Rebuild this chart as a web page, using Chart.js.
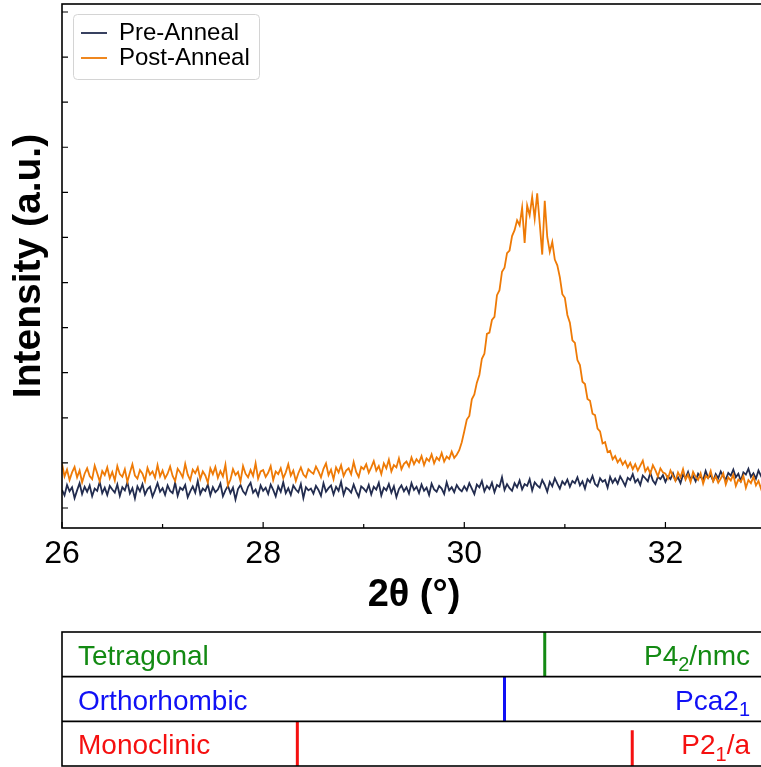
<!DOCTYPE html>
<html>
<head>
<meta charset="utf-8">
<script src="https://cdn.jsdelivr.net/npm/chart.js@4.4.0/dist/chart.umd.min.js"></script>
<style>
  html, body { margin: 0; padding: 0; background: #fff; overflow: hidden; width: 761px; height: 767px; }
  canvas { position: absolute; left: 0; }
  #main { top: 0; }
  #phase { top: 626px; }
</style>
</head>
<body>
<canvas id="main" width="770" height="618"></canvas>
<canvas id="phase" width="770" height="146"></canvas>
<script>
// scan grid (deg 2theta)
const thetaStart = 26.0;
const thetaStep = 0.025;

// intensities, 20 points per 0.5 deg
const preAnneal = [
  140, 128, 151, 137, 146, 122, 139, 155, 131, 147, 136, 150, 126, 143, 138, 158, 133, 145, 129, 149,
  141, 134, 152, 127, 146, 139, 157, 132, 144, 121, 148, 137, 153, 130, 142, 147, 125, 139, 155, 136,
  144, 129, 150, 138, 133, 156, 127, 145, 140, 151, 124, 137, 148, 134, 160, 131, 143, 138, 152, 128,
  146, 135, 141, 154, 126, 139, 149, 133, 145, 119, 142, 151, 137, 130, 147, 156, 134, 141, 127, 150,
  138, 145, 131, 152, 140, 126, 148, 136, 157, 133, 144, 129, 150, 141, 135, 153, 122, 146, 139, 143,
  132, 149, 140, 127, 155, 136, 144, 150, 130, 147, 138, 158, 129, 145, 141, 134, 152, 137, 125, 148,
  143, 136, 151, 130, 147, 141, 156, 128, 145, 139, 153, 134, 148, 124, 142, 150, 137, 146, 132, 155,
  140, 147, 133, 152, 138, 145, 129, 154, 141, 136, 149, 143, 131, 157, 139, 146, 135, 151, 142, 137,
  148, 139, 155, 143, 131, 152, 146, 160, 137, 149, 142, 156, 135, 151, 147, 168, 140, 153, 144, 138,
  155, 146, 161, 141, 153, 149, 164, 139, 157, 150, 145, 162, 151, 136, 158, 148, 166, 154, 143, 159,
  152, 163, 147, 160, 155, 168, 150, 159, 143, 164, 157, 171, 153, 148, 166, 158, 162, 145, 169, 156,
  165, 154, 170, 160, 149, 167, 162, 175, 157, 164, 151, 172, 166, 159, 178, 161, 153, 169, 164, 173,
  158, 170, 164, 177, 161, 168, 155, 174, 166, 180, 163, 171, 159, 176, 169, 162, 182, 167, 173, 160,
  175, 166, 181, 170, 163, 178, 172, 185, 168, 176, 160, 179, 174, 187, 169, 177, 165, 183, 171, 180,
  174
];

const postAnneal = [
  198, 170, 185, 162, 179, 191, 168, 183, 157, 176, 188, 171, 164, 194, 177, 159, 182, 173, 190, 166,
  180, 161, 193, 175, 169, 186, 158, 178, 197, 172, 165, 184, 176, 160, 189, 174, 181, 167, 195, 170,
  183, 166, 176, 192, 171, 160, 187, 179, 168, 198, 174, 162, 185, 177, 190, 164, 181, 172, 156, 188,
  175, 191, 167, 182, 170, 196, 150, 163, 186, 173, 180, 159, 193, 176, 168, 184, 171, 199, 165, 181,
  184, 169, 178, 193, 162, 181, 175, 188, 166, 179, 197, 172, 183, 160, 177, 190, 174, 168, 186, 180,
  176, 192, 181, 168, 187, 199, 173, 185, 164, 190, 179, 195, 171, 183, 188, 175, 202, 180, 169, 191,
  186, 197, 178, 190, 204, 183, 193, 175, 199, 188, 207, 181, 195, 190, 210, 186, 198, 203, 192, 212,
  197, 208, 201, 215, 195, 210, 204, 219, 199, 212, 206, 222, 203, 214, 209, 225, 211, 218, 228, 246,
  270, 296, 304, 341, 352, 378, 395, 431, 442, 486, 489, 517, 524, 572, 583, 624, 633, 665, 671, 703,
  716, 738, 727, 766, 688, 771, 749, 790, 742, 798, 731, 662, 781, 701, 668, 690, 651, 638, 612, 574,
  566, 528, 511, 472, 466, 428, 417, 380, 375, 342, 338, 309, 306, 276, 270, 243, 246, 224, 227, 208,
  215, 201, 209, 196, 204, 190, 200, 186, 197, 183, 194, 205, 181, 190, 176, 195, 184, 170, 188, 179,
  176, 165, 183, 171, 160, 179, 168, 186, 163, 174, 157, 180, 169, 162, 177, 154, 171, 166, 182, 159,
  170, 156, 165, 177, 152, 168, 161, 174, 149, 163, 158, 171, 145, 162, 155, 169, 150, 160, 143, 164,
  156
];

const xTicks = [26, 28, 30, 32];
const xMinorTicks = [27, 29, 31];
const yTicks = [100, 200, 300, 400, 500, 600, 700, 800, 900, 1000, 1100, 1200];

// reference phases (peak position, relative height)
const phaseNames = ['Tetragonal', 'Orthorhombic', 'Monoclinic'];
const phaseGroups = ['P4_2/nmc', 'Pca2_1', 'P2_1/a'];
const tetragonalPeaks = [30.80];
const tetragonalHeights = [1.0];
const orthorhombicPeaks = [30.40];
const orthorhombicHeights = [1.0];
const monoclinicPeaks = [28.34, 31.67];
const monoclinicHeights = [1.0, 0.8];

const FONT = "'Liberation Sans', Arial, Helvetica, sans-serif";
const NAVY = '#222c4f';
const ORANGE = '#ee7a06';
const LEGEND_PAD = 1;

function toPoints(vals) {
  return vals.map((v, i) => ({ x: thetaStart + i * thetaStep, y: v }));
}

const axesFrame = {
  id: 'axesFrame',
  afterLayout(chart) {
    // move legend into the upper-left corner of the axes
    const lg = chart.legend;
    if (!lg) return;
    lg.left += 18; lg.right += 18;
    lg.top += 20; lg.bottom += 20;
  },
  beforeDraw(chart) {
    const lg = chart.legend;
    const hb = lg.legendHitBoxes;
    if (!hb || !hb.length) return;
    const ctx = chart.ctx;
    const w = Math.max(...hb.map(h => h.width));
    const h = hb.reduce((s, b) => s + b.height + LEGEND_PAD, 0) - LEGEND_PAD;
    const x0 = lg.left + LEGEND_PAD - 8;
    const y0 = lg.top + LEGEND_PAD - 7;
    const x1 = lg.left + LEGEND_PAD + w + 9;
    const y1 = lg.top + LEGEND_PAD + h + 9;
    ctx.save();
    ctx.fillStyle = 'rgba(255,255,255,0.8)';
    ctx.strokeStyle = '#d4d4d4';
    ctx.lineWidth = 1;
    ctx.beginPath();
    ctx.roundRect(Math.round(x0) + 0.5, Math.round(y0) + 0.5, Math.round(x1 - x0), Math.round(y1 - y0), 4);
    ctx.fill();
    ctx.stroke();
    ctx.restore();
  },
  afterDatasetsDraw(chart) {
    const { ctx, chartArea: a, scales: { x, y } } = chart;
    ctx.save();
    ctx.strokeStyle = '#000';
    ctx.lineWidth = 1.2;
    ctx.beginPath();
    xTicks.forEach(v => {
      const px = x.getPixelForValue(v);
      ctx.moveTo(px, a.bottom); ctx.lineTo(px, a.bottom - 6);
    });
    xMinorTicks.forEach(v => {
      const px = x.getPixelForValue(v);
      ctx.moveTo(px, a.bottom); ctx.lineTo(px, a.bottom - 4);
    });
    yTicks.forEach(v => {
      const py = y.getPixelForValue(v);
      ctx.moveTo(a.left, py); ctx.lineTo(a.left + 6, py);
    });
    ctx.stroke();
    ctx.lineWidth = 1.6;
    ctx.strokeRect(a.left, a.top, a.right - a.left, a.bottom - a.top);
    ctx.restore();
  }
};

new Chart(document.getElementById('main'), {
  type: 'line',
  data: {
    datasets: [
      { label: 'Pre-Anneal', data: toPoints(preAnneal), borderColor: NAVY, backgroundColor: NAVY,
        borderWidth: 1.8, pointRadius: 0, pointStyle: 'line', order: 1 },
      { label: 'Post-Anneal', data: toPoints(postAnneal), borderColor: ORANGE, backgroundColor: ORANGE,
        borderWidth: 1.8, pointRadius: 0, pointStyle: 'line', order: 0 }
    ]
  },
  options: {
    responsive: false,
    animation: false,
    layout: { padding: { left: 0, right: 4, top: 4, bottom: 0 } },
    scales: {
      x: {
        type: 'linear', min: 26, max: 33,
        afterFit: s => { s.height = 90; },
        afterBuildTicks: s => { s.ticks = xTicks.map(v => ({ value: v })); },
        grid: { display: false, drawTicks: false },
        border: { display: false },
        ticks: { color: '#000', font: { family: FONT, size: 32 }, padding: 7, maxRotation: 0, autoSkip: false },
        title: { display: true, text: '2θ (°)', color: '#000',
          font: { family: FONT, size: 38, weight: 'bold' }, padding: { top: 0, bottom: 0 } }
      },
      y: {
        type: 'linear', min: 55.6, max: 1217.7,
        afterFit: s => { s.width = 62; },
        afterBuildTicks: s => { s.ticks = yTicks.map(v => ({ value: v })); },
        grid: { display: false, drawTicks: false },
        border: { display: false },
        ticks: { display: false },
        title: { display: true, text: 'Intensity (a.u.)', color: '#000',
          font: { family: FONT, size: 39, weight: 'bold' }, padding: { top: 6, bottom: 0 } }
      }
    },
    plugins: {
      legend: {
        position: 'chartArea', align: 'start',
        labels: {
          usePointStyle: true, pointStyleWidth: 26, padding: LEGEND_PAD, color: '#000',
          font: { family: FONT, size: 24 },
          sort: (a, b) => a.datasetIndex - b.datasetIndex
        }
      },
      tooltip: { enabled: false }
    }
  },
  plugins: [axesFrame]
});

// ---- phase reference panel ----
function peakSegments(peaks, heights, row) {
  const pts = [];
  peaks.forEach((p, i) => {
    pts.push({ x: p, y: row });
    pts.push({ x: p, y: row + heights[i] });
    pts.push({ x: p, y: null });
  });
  return pts;
}

const phaseColors = ['#138a13', '#1010f5', '#f51010'];

function drawSubText(ctx, str, xRight, y, size) {
  // '_' marks a one-character subscript
  const parts = [];
  for (let i = 0; i < str.length; i++) {
    if (str[i] === '_') { parts.push({ t: str[i + 1], sub: true }); i++; }
    else parts.push({ t: str[i], sub: false });
  }
  const big = size + 'px ' + FONT, small = Math.round(size * 0.7) + 'px ' + FONT;
  let total = 0;
  parts.forEach(p => { ctx.font = p.sub ? small : big; p.w = ctx.measureText(p.t).width; total += p.w; });
  let x = xRight - total;
  parts.forEach(p => {
    ctx.font = p.sub ? small : big;
    ctx.fillText(p.t, x, p.sub ? y + size * 0.3 : y);
    x += p.w;
  });
}

const phaseFrame = {
  id: 'phaseFrame',
  afterDatasetsDraw(chart) {
    const { ctx, chartArea: a, scales: { y } } = chart;
    ctx.save();
    ctx.strokeStyle = '#000';
    ctx.lineWidth = 1.6;
    ctx.beginPath();
    [1, 2].forEach(v => {
      const py = y.getPixelForValue(v);
      ctx.moveTo(a.left, py); ctx.lineTo(a.right, py);
    });
    ctx.stroke();
    ctx.strokeRect(a.left, a.top, a.right - a.left, a.bottom - a.top);
    ctx.textBaseline = 'middle';
    phaseNames.forEach((name, i) => {
      const row = 2 - i;
      const cy = (y.getPixelForValue(row) + y.getPixelForValue(row + 1)) / 2 + 3;
      ctx.fillStyle = phaseColors[i];
      ctx.font = '28px ' + FONT;
      ctx.textAlign = 'left';
      ctx.fillText(name, a.left + 16, cy);
      drawSubText(ctx, phaseGroups[i], a.right - 16, cy, 28);
    });
    ctx.restore();
  }
};

new Chart(document.getElementById('phase'), {
  type: 'line',
  data: {
    datasets: [
      { label: phaseNames[0], data: peakSegments(tetragonalPeaks, tetragonalHeights, 2),
        borderColor: phaseColors[0], borderWidth: 3, pointRadius: 0, spanGaps: false },
      { label: phaseNames[1], data: peakSegments(orthorhombicPeaks, orthorhombicHeights, 1),
        borderColor: phaseColors[1], borderWidth: 3, pointRadius: 0, spanGaps: false },
      { label: phaseNames[2], data: peakSegments(monoclinicPeaks, monoclinicHeights, 0),
        borderColor: phaseColors[2], borderWidth: 3, pointRadius: 0, spanGaps: false }
    ]
  },
  options: {
    responsive: false,
    animation: false,
    layout: { padding: { left: 62, right: 4, top: 6, bottom: 6 } },
    scales: {
      x: { type: 'linear', min: 26, max: 33, display: false },
      y: { type: 'linear', min: 0, max: 3, display: false }
    },
    plugins: { legend: { display: false }, tooltip: { enabled: false } }
  },
  plugins: [phaseFrame]
});
</script>
</body>
</html>
